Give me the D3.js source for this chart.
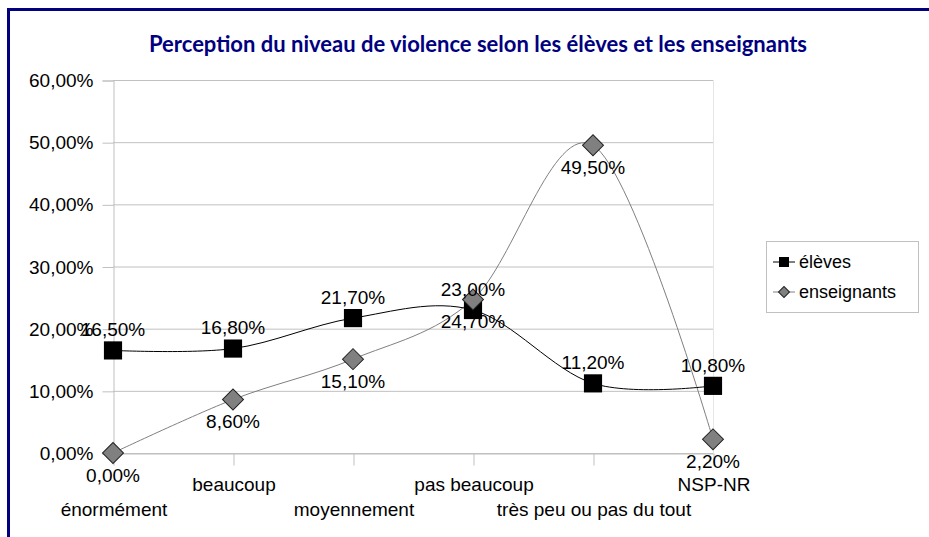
<!DOCTYPE html>
<html>
<head>
<meta charset="utf-8">
<script src="https://cdn.jsdelivr.net/npm/d3@7"></script>
<style>
  body { margin: 0; background: #fff; }
  text { font-family: "Liberation Sans", Arial, sans-serif; }
</style>
</head>
<body>
<div id="chart"></div>
<script>
// data
var categories = ["énormément", "beaucoup", "moyennement", "pas beaucoup", "très peu ou pas du tout", "NSP-NR"];
var eleves = [0.165, 0.168, 0.217, 0.230, 0.112, 0.108];
var enseignants = [0.000, 0.086, 0.151, 0.247, 0.495, 0.022];
var yTicks = [0, 0.1, 0.2, 0.3, 0.4, 0.5, 0.6];
var seriesNames = ["élèves", "enseignants"];

var W = 929, H = 537;
var fmt = function(v) { return (v * 100).toFixed(2).replace(".", ",") + "%"; };

var svg = d3.select("#chart").append("svg")
    .attr("width", W)
    .attr("height", H);

// outer frame (top + left only visible)
svg.append("path")
    .attr("d", "M8.5," + H + " V9.5 H" + W)
    .attr("fill", "none")
    .attr("stroke", "#000080")
    .attr("stroke-width", 3);

// title
svg.append("text")
    .attr("x", 478)
    .attr("y", 52)
    .attr("text-anchor", "middle")
    .style("font-family", "Lato, 'Open Sans', sans-serif")
    .style("font-weight", "bold")
    .style("font-size", "22px")
    .style("fill", "#000080")
    .text("Perception du niveau de violence selon les élèves et les enseignants");

// scales
var x = d3.scalePoint()
    .domain(categories)
    .range([113, 713]);
var y = d3.scaleLinear()
    .domain([0, 0.6])
    .range([453, 80]);

// gridlines
svg.append("g")
    .selectAll("line")
    .data(yTicks)
  .enter().append("line")
    .attr("x1", 113).attr("x2", 713)
    .attr("y1", function(d) { return y(d) + 0.5; })
    .attr("y2", function(d) { return y(d) + 0.5; })
    .attr("stroke", "#c0c0c0");

// right border of plot
svg.append("line")
    .attr("x1", 713.5).attr("x2", 713.5)
    .attr("y1", 80).attr("y2", 453)
    .attr("stroke", "#e6e6e6");

// y axis
var yAxis = svg.append("g")
    .attr("transform", "translate(113.5,0.5)")
    .call(d3.axisLeft(y).tickValues(yTicks).tickSize(11).tickPadding(9).tickFormat(fmt));
yAxis.select(".domain").attr("stroke", "#c0c0c0");
yAxis.selectAll(".tick line").attr("stroke", "#c0c0c0");
yAxis.selectAll("text")
    .style("font-size", "19px")
    .style("font-family", "'Liberation Sans', Arial, sans-serif")
    .attr("fill", "#000");

// x axis, labels staggered on two rows
var xAxis = svg.append("g")
    .attr("transform", "translate(0.5,453.5)")
    .call(d3.axisBottom(x).tickSize(12).tickSizeOuter(0));
xAxis.select(".domain").attr("stroke", "#c0c0c0");
xAxis.selectAll(".tick line").attr("stroke", "#c0c0c0");
xAxis.selectAll("text")
    .attr("y", function(d, i) { return i % 2 === 0 ? 56 : 31; })
    .attr("dy", "0.35em")
    .style("font-size", "19px")
    .style("font-family", "'Liberation Sans', Arial, sans-serif")
    .attr("fill", "#000");

// lines
var line = d3.line()
    .x(function(d, i) { return x(categories[i]); })
    .y(function(d) { return y(d); })
    .curve(d3.curveCardinal.tension(0));

svg.append("path")
    .datum(enseignants)
    .attr("d", line)
    .attr("fill", "none")
    .attr("stroke", "#808080")
    .attr("stroke-width", 1);

svg.append("path")
    .datum(eleves)
    .attr("d", line)
    .attr("fill", "none")
    .attr("stroke", "#000")
    .attr("stroke-width", 1);

// markers
var square = d3.symbol().type(d3.symbolSquare).size(330);
var diamond = d3.symbol().type(d3.symbolSquare).size(220);

svg.selectAll(".sq")
    .data(eleves)
  .enter().append("path")
    .attr("class", "sq")
    .attr("d", square)
    .attr("transform", function(d, i) { return "translate(" + x(categories[i]) + "," + y(d) + ")"; })
    .attr("fill", "#000");

svg.selectAll(".dm")
    .data(enseignants)
  .enter().append("path")
    .attr("class", "dm")
    .attr("d", diamond)
    .attr("transform", function(d, i) { return "translate(" + x(categories[i]) + "," + y(d) + ") rotate(45)"; })
    .attr("fill", "#808080")
    .attr("stroke", "#222")
    .attr("stroke-width", 1);

// data labels
svg.selectAll(".lbl-el")
    .data(eleves)
  .enter().append("text")
    .attr("class", "lbl-el")
    .attr("x", function(d, i) { return x(categories[i]); })
    .attr("y", function(d) { return y(d) - 21; })
    .attr("dy", "0.35em")
    .attr("text-anchor", "middle")
    .style("font-size", "19px")
    .text(fmt);

svg.selectAll(".lbl-en")
    .data(enseignants)
  .enter().append("text")
    .attr("class", "lbl-en")
    .attr("x", function(d, i) { return x(categories[i]); })
    .attr("y", function(d) { return y(d) + 22; })
    .attr("dy", "0.35em")
    .attr("text-anchor", "middle")
    .style("font-size", "19px")
    .text(fmt);

// legend
var legend = svg.append("g");
legend.append("rect")
    .attr("x", 766.5).attr("y", 241.5)
    .attr("width", 152).attr("height", 71)
    .attr("fill", "#fff")
    .attr("stroke", "#c0c0c0");

seriesNames.forEach(function(name, i) {
  var ly = 262 + i * 30;
  legend.append("line")
      .attr("x1", 773).attr("x2", 795)
      .attr("y1", ly).attr("y2", ly)
      .attr("stroke", i === 0 ? "#000" : "#808080");
  legend.append("path")
      .attr("d", d3.symbol().type(d3.symbolSquare).size(i === 0 ? 100 : 60))
      .attr("transform", "translate(784," + ly + ")" + (i === 0 ? "" : " rotate(45)"))
      .attr("fill", i === 0 ? "#000" : "#808080")
      .attr("stroke", i === 0 ? "none" : "#222");
  legend.append("text")
      .attr("x", 799)
      .attr("y", ly)
      .attr("dy", "0.35em")
      .style("font-size", "18px")
      .text(name);
});
</script>
</body>
</html>
